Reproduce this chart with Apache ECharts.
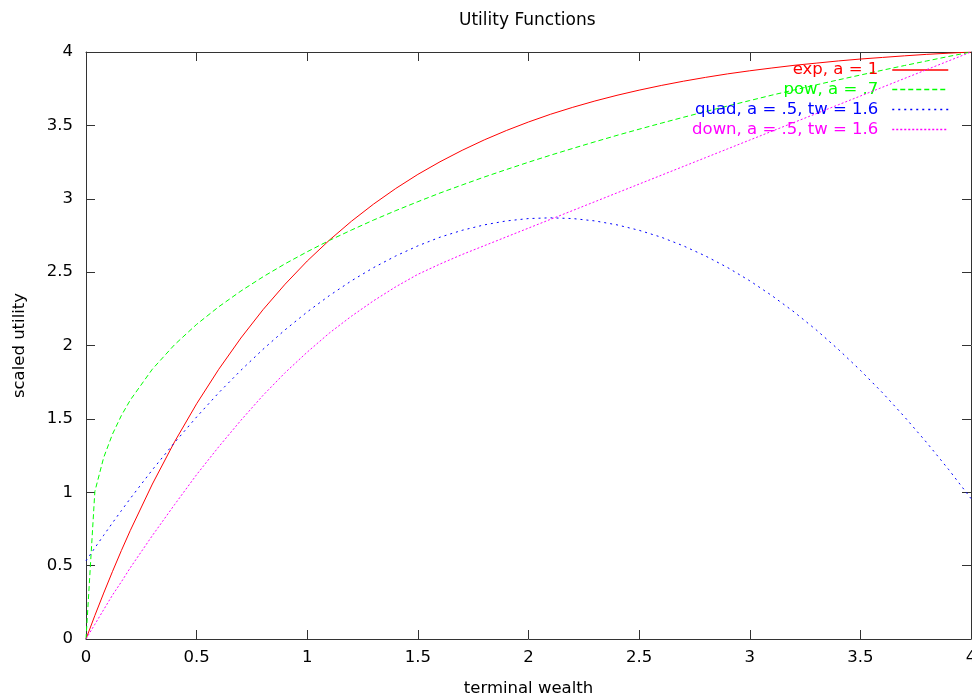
<!DOCTYPE html>
<html><head><meta charset="utf-8">
<script src="https://cdn.jsdelivr.net/npm/echarts@6/dist/echarts.min.js"></script>
<style>html,body{margin:0;padding:0;background:#fff}#c{width:972px;height:697px}</style>
</head><body><div id="c"></div>
<script>
// terminal wealth sample points
const wealth = [0,0.04,0.08,0.12,0.16,0.2,0.3,0.4,0.5,0.6,0.7,0.8,0.9,1,1.1,1.2,1.3,1.4,1.5,1.6,1.7,1.8,1.9,2,2.1,2.2,2.3,2.4,2.5,2.6,2.7,2.8,2.9,3,3.1,3.2,3.3,3.4,3.5,3.6,3.7,3.8,3.9,4];
// scaled utility
const expUtility = [0,0.160,0.313,0.461,0.603,0.739,1.056,1.343,1.603,1.838,2.051,2.244,2.418,2.576,2.718,2.847,2.964,3.070,3.166,3.252,3.330,3.401,3.465,3.523,3.576,3.623,3.666,3.705,3.740,3.772,3.801,3.827,3.851,3.872,3.891,3.909,3.924,3.939,3.952,3.963,3.974,3.984,3.992,4.000];
const powUtility = [0,1.005,1.237,1.397,1.523,1.628,1.839,2.005,2.144,2.264,2.371,2.468,2.557,2.639,2.716,2.787,2.855,2.919,2.980,3.039,3.094,3.148,3.199,3.249,3.297,3.343,3.388,3.432,3.474,3.515,3.555,3.594,3.632,3.669,3.706,3.741,3.776,3.810,3.843,3.876,3.908,3.939,3.970,4.000];
const quadUtility = [0.533,0.621,0.707,0.792,0.875,0.957,1.153,1.338,1.513,1.678,1.831,1.974,2.107,2.229,2.340,2.441,2.531,2.610,2.679,2.738,2.785,2.822,2.849,2.865,2.870,2.865,2.849,2.822,2.785,2.738,2.679,2.610,2.531,2.441,2.340,2.229,2.107,1.974,1.831,1.678,1.513,1.338,1.153,0.957];
const downUtility = [0,0.10,0.20,0.30,0.39,0.485,0.705,0.915,1.12,1.31,1.49,1.66,1.815,1.955,2.085,2.20,2.305,2.40,2.485,2.555,2.62,2.68,2.74,2.80,2.86,2.92,2.98,3.04,3.10,3.16,3.22,3.28,3.34,3.40,3.46,3.52,3.58,3.64,3.70,3.76,3.82,3.88,3.94,4.00];
const seriesNames = ['exp, a = 1','pow, a = .7','quad, a = .5, tw = 1.6','down, a = .5, tw = 1.6'];
const seriesColors = ['#ff0000','#00ff00','#0000ff','#ff00ff'];
const axisMin = 0, axisMax = 4, tickStep = 0.5;
const titleText = 'Utility Functions';
const xName = 'terminal wealth';
const yName = 'scaled utility';

const FONT = 'DejaVu Sans';
const FS = 16.5;
const allValues = [expUtility, powUtility, quadUtility, downUtility];
const dashes = ['solid', [5,3], [2,4], [2,2]];
const legendTops = [61.5, 81, 101, 121];

const chart = echarts.init(document.getElementById('c'), null, {renderer:'canvas'});
const baseAxis = (pos) => ({
  type:'value', min:axisMin, max:axisMax, interval:tickStep, position:pos,
  axisLine:{show:true, onZero:false, lineStyle:{color:'#333', width:1}},
  axisTick:{show:true, inside:true, length:9, lineStyle:{color:'#333', width:1}},
  splitLine:{show:false},
  axisLabel:{show:false}
});
const xBottom = Object.assign(baseAxis('bottom'), {
  axisLabel:{show:true, color:'#000', fontSize:FS, fontFamily:FONT, margin:10},
  name:xName, nameLocation:'middle', nameGap:41,
  nameTextStyle:{color:'#000', fontSize:FS, fontFamily:FONT}
});
const yLeft = Object.assign(baseAxis('left'), {
  axisLabel:{show:true, color:'#000', fontSize:FS, fontFamily:FONT, margin:13},
  name:yName, nameLocation:'middle', nameGap:58,
  nameTextStyle:{color:'#000', fontSize:FS, fontFamily:FONT}
});
const option = {
  animation:false,
  backgroundColor:'#fff',
  title:{text:titleText, left:459, top:12, padding:0,
    textStyle:{color:'#000', fontSize:17, fontWeight:'normal', fontFamily:FONT}},
  grid:{left:86, top:52, width:885, height:587, containLabel:false, outerBoundsMode:'none'},
  xAxis:[xBottom, baseAxis('top')],
  yAxis:[yLeft, baseAxis('right')],
  legend: seriesNames.map((n,i)=>({
    data:[{name:n, textStyle:{color:seriesColors[i]}}],
    orient:'vertical', align:'right', right:23, top:legendTops[i], padding:0,
    itemWidth:56, itemHeight:14, selectedMode:false,
    itemStyle:{opacity:0},
    lineStyle:{width:1.5, color:seriesColors[i], type:dashes[i]},
    textStyle:{fontSize:FS, fontFamily:FONT, padding:[0,9,0,0]}
  })),
  series: seriesNames.map((n,i)=>({
    name:n, type:'line', xAxisIndex:0, yAxisIndex:0,
    data: wealth.map((w,j)=>[w, allValues[i][j]]),
    showSymbol:false, symbol:'none', smooth:false,
    lineStyle:{color:seriesColors[i], width:1, type:dashes[i]},
    itemStyle:{color:seriesColors[i]},
    emphasis:{disabled:true}, z:2+i
  }))
};
chart.setOption(option);
</script></body></html>
